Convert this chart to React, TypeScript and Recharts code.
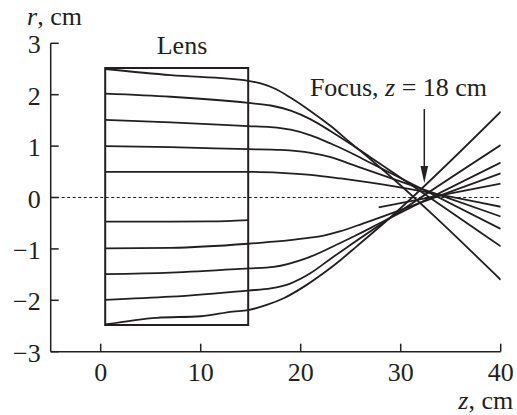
import React from 'react';
import { LineChart, Line, XAxis, YAxis, ReferenceLine, ReferenceArea, ReferenceDot } from 'recharts';

const COLOR = '#231f20';
const FONT = '"Liberation Serif", "Times New Roman", Times, serif';
const FS = 26;

const xTicks = [0, 10, 20, 30, 40];
const yTicks = [-3, -2, -1, 0, 1, 2, 3];

// lens outline (z range, r range)
const lensZ = [0.45, 14.75];
const lensR = [-2.48, 2.52];

// focus arrow (z, r top, r tip)
const focusZ = 32.36;
const focusArrowR = [1.72, 0.28];

// rays: z positions and r values
const ray1Z = [0.45, 7, 14.75, 16, 17.5, 19, 21, 23, 25, 27, 40];
const ray1R = [2.5, 2.38, 2.27, 2.22, 2.11, 1.94, 1.68, 1.39, 1.06, 0.74, -1.6];

const ray2Z = [0.45, 7, 14.75, 17, 19, 21, 23, 25, 27, 40];
const ray2R = [2.02, 1.96, 1.84, 1.79, 1.69, 1.52, 1.29, 1.04, 0.78, -0.95];

const ray3Z = [0.45, 7, 14.75, 17, 19, 21, 23, 25, 27, 40];
const ray3R = [1.51, 1.46, 1.39, 1.37, 1.32, 1.21, 1.05, 0.87, 0.67, -0.61];

const ray4Z = [0.45, 7, 14.75, 18, 21, 23, 25, 27, 40];
const ray4R = [1.0, 0.98, 0.94, 0.925, 0.87, 0.786, 0.65, 0.514, -0.37];

const ray5Z = [0.45, 14.75, 18, 21, 24, 27, 40];
const ray5R = [0.5, 0.5, 0.48, 0.44, 0.37, 0.29, -0.18];

const ray6aZ = [0.45, 7, 11, 14.75];
const ray6aR = [-0.47, -0.47, -0.465, -0.44];
const ray6bZ = [27.8, 40];
const ray6bR = [-0.19, 0.27];

const ray7Z = [0.45, 7, 14.75, 17.3, 20.6, 22.3, 23.9, 25.6, 27.9, 40];
const ray7R = [-0.99, -0.98, -0.9, -0.86, -0.79, -0.74, -0.66, -0.55, -0.39, 0.47];

const ray8Z = [0.45, 7, 14.75, 17.3, 20.6, 23.9, 25.6, 27.9, 40];
const ray8R = [-1.49, -1.46, -1.38, -1.35, -1.18, -0.89, -0.73, -0.5, 0.68];

const ray9Z = [0.45, 7, 14.75, 17, 19, 21, 23, 25, 40];
const ray9R = [-1.99, -1.93, -1.81, -1.77, -1.67, -1.47, -1.19, -0.92, 1.02];

const ray10Z = [0.45, 5.6, 10, 13.2, 14.75, 16.6, 18.3, 20.6, 22.3, 23.9, 25.6, 27.9, 40];
const ray10R = [-2.47, -2.34, -2.31, -2.22, -2.19, -2.09, -1.96, -1.7, -1.47, -1.23, -0.95, -0.57, 1.67];

const rays: [number[], number[]][] = [
  [ray1Z, ray1R], [ray2Z, ray2R], [ray3Z, ray3R], [ray4Z, ray4R], [ray5Z, ray5R],
  [ray6aZ, ray6aR], [ray6bZ, ray6bR], [ray7Z, ray7R], [ray8Z, ray8R], [ray9Z, ray9R], [ray10Z, ray10R],
];
const rayData = rays.map(([zs, rs]) => zs.map((z, i) => ({ z, r: rs[i] })));

const textProps = { fontFamily: FONT, fontSize: FS, fill: COLOR };

const XTick = (p: any) => (
  <text x={p.x} y={p.y + 17} textAnchor="middle" {...textProps}>{p.payload.value}</text>
);
const YTick = (p: any) => (
  <text x={p.x} y={p.y + 10} textAnchor="end" {...textProps}>
    {String(p.payload.value).replace('-', '\u2212')}
  </text>
);

const Arrow = (p: any) => {
  const { x1, y1, x2, y2 } = p;
  const head = 17;
  const hw = 3.8;
  return (
    <g>
      <line x1={x1} y1={y1} x2={x2} y2={y2 - head + 2} stroke={COLOR} strokeWidth={1.5} />
      <polygon points={`${x2},${y2} ${x2 - hw},${y2 - head} ${x2 + hw},${y2 - head}`} fill={COLOR} />
    </g>
  );
};

const XLabel = (p: any) => {
  const vb = p.viewBox || {};
  return (
    <text x={vb.x + vb.width + 12.5} y={vb.y + 57} textAnchor="end" {...textProps}>
      <tspan fontStyle="italic">z</tspan>, cm
    </text>
  );
};
const YLabel = (p: any) => {
  const vb = p.viewBox || {};
  return (
    <text x={vb.x + 27} y={vb.y - 18.3} textAnchor="start" {...textProps}>
      <tspan fontStyle="italic">r</tspan>, cm
    </text>
  );
};

const LensLabel = (p: any) => {
  const vb = p.viewBox || {};
  return <text x={vb.x} y={vb.y} textAnchor="middle" {...textProps}>Lens</text>;
};
const FocusLabel = (p: any) => {
  const vb = p.viewBox || {};
  return (
    <text x={vb.x} y={vb.y} textAnchor="middle" {...textProps}>
      Focus, <tspan fontStyle="italic">z</tspan> = 18 cm
    </text>
  );
};

export default function App() {
  return (
    <div style={{ position: 'absolute', left: 0, top: 0, background: '#fff' }}>
      <LineChart width={517} height={415} margin={{ top: 43.3, right: 16.3, bottom: 33.3, left: 0 }}>
        <XAxis
          type="number"
          dataKey="z"
          domain={[-5, 40]}
          ticks={xTicks}
          interval={0}
          allowDataOverflow
          height={30}
          axisLine={{ stroke: COLOR, strokeWidth: 1.5 }}
          tickLine={{ stroke: COLOR, strokeWidth: 1.5 }}
          tickSize={-8}
          tickMargin={20}
          tick={XTick}
          label={{ content: XLabel }}
        />
        <YAxis
          type="number"
          dataKey="r"
          domain={[-3, 3]}
          ticks={yTicks}
          interval={0}
          allowDataOverflow
          width={50.7}
          axisLine={{ stroke: COLOR, strokeWidth: 1.5 }}
          tickLine={{ stroke: COLOR, strokeWidth: 1.5 }}
          tickSize={-8}
          tickMargin={18}
          tick={YTick}
          label={{ content: YLabel }}
        />
        <ReferenceLine y={0} stroke={COLOR} strokeWidth={1} strokeDasharray="3 2.5" />
        <ReferenceArea
          x1={lensZ[0]}
          x2={lensZ[1]}
          y1={lensR[0]}
          y2={lensR[1]}
          fill="none"
          fillOpacity={0}
          stroke={COLOR}
          strokeWidth={2}
        />
        {rayData.map((d, i) => (
          <Line
            key={i}
            data={d}
            dataKey="r"
            type="monotone"
            stroke={COLOR}
            strokeWidth={1.8}
            dot={false}
            activeDot={false}
            isAnimationActive={false}
          />
        ))}
        <ReferenceLine
          segment={[{ x: focusZ, y: focusArrowR[0] }, { x: focusZ, y: focusArrowR[1] }]}
          shape={Arrow}
        />
        <ReferenceDot x={8.13} y={2.79} r={0} fill="none" stroke="none" label={{ content: LensLabel }} />
        <ReferenceDot x={29.78} y={1.975} r={0} fill="none" stroke="none" label={{ content: FocusLabel }} />
      </LineChart>
    </div>
  );
}
